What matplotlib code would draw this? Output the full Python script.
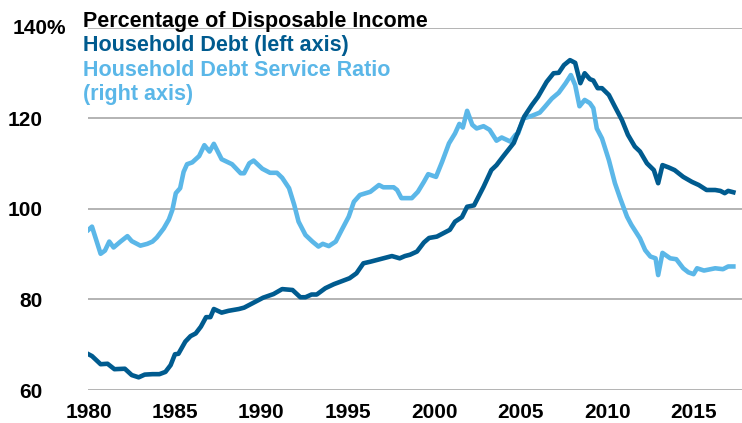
import matplotlib
matplotlib.use('Agg')
import matplotlib.pyplot as plt

# household debt, % of disposable income (left axis)
debt_years = [1980.0, 1980.2, 1980.7, 1981.1, 1981.5, 1982.1, 1982.5, 1982.9, 1983.25,
              1983.7, 1984.1, 1984.45, 1984.75, 1985.0, 1985.2, 1985.6, 1985.9, 1986.2,
              1986.5, 1986.8, 1987.05, 1987.25, 1987.7, 1988.1, 1988.7, 1989.0, 1989.5,
              1990.1, 1990.7, 1991.2, 1991.8, 1992.25, 1992.55, 1992.9, 1993.2, 1993.7,
              1994.2, 1994.55, 1995.1, 1995.5, 1995.9, 1996.3, 1996.9, 1997.55, 1998.0,
              1998.3, 1998.6, 1999.0, 1999.4, 1999.7, 2000.15, 2000.9, 2001.2, 2001.6,
              2001.9, 2002.3, 2002.85, 2003.3, 2003.6, 2004.0, 2004.6, 2005.2, 2005.65,
              2006.0, 2006.5, 2006.9, 2007.2, 2007.5, 2007.85, 2008.15, 2008.45, 2008.7,
              2009.0, 2009.2, 2009.45, 2009.7, 2010.1, 2010.45, 2010.85, 2011.2, 2011.6,
              2011.9, 2012.3, 2012.7, 2012.95, 2013.2, 2013.55, 2013.9, 2014.4, 2014.9,
              2015.3, 2015.75, 2016.25, 2016.55, 2016.8, 2017.0, 2017.3]
debt_vals = [67.9, 67.5, 65.7, 65.8, 64.6, 64.7, 63.3, 62.8, 63.4,
             63.5, 63.5, 64.0, 65.5, 67.9, 68.0, 70.7, 71.9, 72.5,
             74.0, 76.1, 76.1, 77.9, 77.1, 77.5, 77.9, 78.2, 79.2,
             80.4, 81.2, 82.3, 82.1, 80.5, 80.5, 81.1, 81.1, 82.5,
             83.4, 83.9, 84.7, 85.8, 88.0, 88.35, 88.95, 89.6, 89.1,
             89.6, 89.9, 90.6, 92.6, 93.6, 93.9, 95.4, 97.2, 98.2,
             100.5, 100.8, 104.9, 108.6, 109.7, 111.7, 114.6, 120.4, 123.0,
             124.8, 128.1, 130.0, 130.1, 131.8, 132.9, 132.3, 127.8, 130.0,
             128.7, 128.4, 126.7, 126.7, 125.2, 122.6, 119.7, 116.4, 113.8,
             112.7, 110.1, 108.6, 105.7, 109.7, 109.2, 108.6, 107.1, 106.0,
             105.3, 104.2, 104.2, 104.0, 103.5, 104.0, 103.7]

# debt service ratio, plotted against the right-axis scale
dsr_years = [1980.0, 1980.2, 1980.7, 1980.95, 1981.2, 1981.45, 1981.85, 1982.25, 1982.5,
             1983.0, 1983.4, 1983.7, 1983.95, 1984.35, 1984.65, 1984.85, 1985.05, 1985.3,
             1985.5, 1985.7, 1986.0, 1986.4, 1986.7, 1987.0, 1987.25, 1987.7, 1988.3,
             1988.8, 1989.0, 1989.3, 1989.55, 1990.05, 1990.5, 1990.9, 1991.2, 1991.6,
             1991.9, 1992.15, 1992.55, 1992.95, 1993.3, 1993.55, 1993.9, 1994.3, 1994.65,
             1995.05, 1995.35, 1995.7, 1996.3, 1996.8, 1997.05, 1997.65, 1997.85, 1998.1,
             1998.7, 1999.05, 1999.4, 1999.65, 2000.1, 2000.45, 2000.85, 2001.2, 2001.45,
             2001.65, 2001.9, 2002.2, 2002.45, 2002.85, 2003.2, 2003.6, 2003.9, 2004.4,
             2004.7, 2004.85, 2005.15, 2005.65, 2006.1, 2006.4, 2006.8, 2007.2, 2007.6,
             2007.9, 2008.15, 2008.4, 2008.7, 2009.0, 2009.2, 2009.4, 2009.7, 2010.1,
             2010.45, 2010.75, 2011.15, 2011.4, 2011.9, 2012.2, 2012.5, 2012.8, 2012.95,
             2013.2, 2013.65, 2014.0, 2014.4, 2014.7, 2015.0, 2015.2, 2015.6, 2016.25,
             2016.7, 2017.0, 2017.3]
dsr_vals = [95.4, 96.1, 90.1, 90.8, 92.8, 91.5, 92.8, 94.0, 92.9,
            91.9, 92.3, 92.8, 93.7, 95.7, 97.7, 99.8, 103.5, 104.6,
            108.2, 109.9, 110.3, 111.7, 114.1, 112.7, 114.4, 111.0, 109.9,
            107.9, 107.9, 110.1, 110.7, 108.9, 108.0, 108.0, 106.9, 104.6,
            100.9, 97.2, 94.25, 92.8, 91.7, 92.3, 91.8, 92.8, 95.4,
            98.3, 101.6, 103.1, 103.8, 105.3, 104.8, 104.8, 104.2, 102.4,
            102.4, 103.8, 106.0, 107.7, 107.1, 110.4, 114.5, 116.7, 118.8,
            118.0, 121.7, 118.6, 117.8, 118.3, 117.5, 115.1, 115.8, 114.9,
            116.4, 116.7, 120.0, 120.6, 121.3, 122.6, 124.4, 125.7, 127.8,
            129.6, 127.4, 122.7, 124.1, 123.4, 122.3, 117.8, 115.6, 110.8,
            105.7, 102.4, 98.3, 96.5, 93.5, 90.9, 89.5, 89.1, 85.4,
            90.3, 89.1, 88.9, 86.9, 86.0, 85.6, 86.9, 86.4, 86.9,
            86.7, 87.3, 87.3]

xticks = [1980, 1985, 1990, 1995, 2000, 2005, 2010, 2015]
yticks = [60, 80, 100, 120, 140]
ytick_labels = ['60', '80', '100', '120', '']

dark = '#005b8f'
light = '#5bb7e8'

plt.rcParams['font.family'] = ['Liberation Sans', 'DejaVu Sans']
plt.rcParams['font.weight'] = 'bold'

fig = plt.figure(figsize=(7.42, 4.23), dpi=100)
ax = fig.add_axes([88 / 742, 1 - 390 / 423, 654 / 742, 362 / 423])

ax.plot(dsr_years, dsr_vals, color=light, lw=3.3, solid_joinstyle='round', zorder=3)
ax.plot(debt_years, debt_vals, color=dark, lw=3.3, solid_joinstyle='round', zorder=4)

ax.set_xlim(1979.97, 2017.8)
ax.set_ylim(60, 140)
ax.set_xticks(xticks)
ax.set_yticks(yticks)
ax.set_yticklabels(ytick_labels)
ax.tick_params(axis='both', length=0, labelsize=15)
ax.tick_params(axis='x', pad=9)
ax.tick_params(axis='y', pad=33)
for lbl in ax.get_xticklabels() + ax.get_yticklabels():
    lbl.set_fontweight('bold')
ax.grid(axis='y', color='#b3b3b3', lw=1.4, zorder=0)
for s in ax.spines.values():
    s.set_visible(False)
ax.set_facecolor('none')

fig.text(13 / 742, 1 - 28 / 423, '140%', fontsize=15, fontweight='bold',
         ha='left', va='center')

# legend-style heading in the top left
tx = 83 / 742
fig.text(tx, 1 - 27 / 423, 'Percentage of Disposable Income', fontsize=15.5,
         fontweight='bold', color='black', va='baseline')
fig.text(tx, 1 - 51 / 423, 'Household Debt (left axis)', fontsize=15.5,
         fontweight='bold', color=dark, va='baseline')
fig.text(tx, 1 - 76 / 423, 'Household Debt Service Ratio', fontsize=15.5,
         fontweight='bold', color=light, va='baseline')
fig.text(tx, 1 - 100 / 423, '(right axis)', fontsize=15.5,
         fontweight='bold', color=light, va='baseline')

fig.savefig('out.png', dpi=100)
